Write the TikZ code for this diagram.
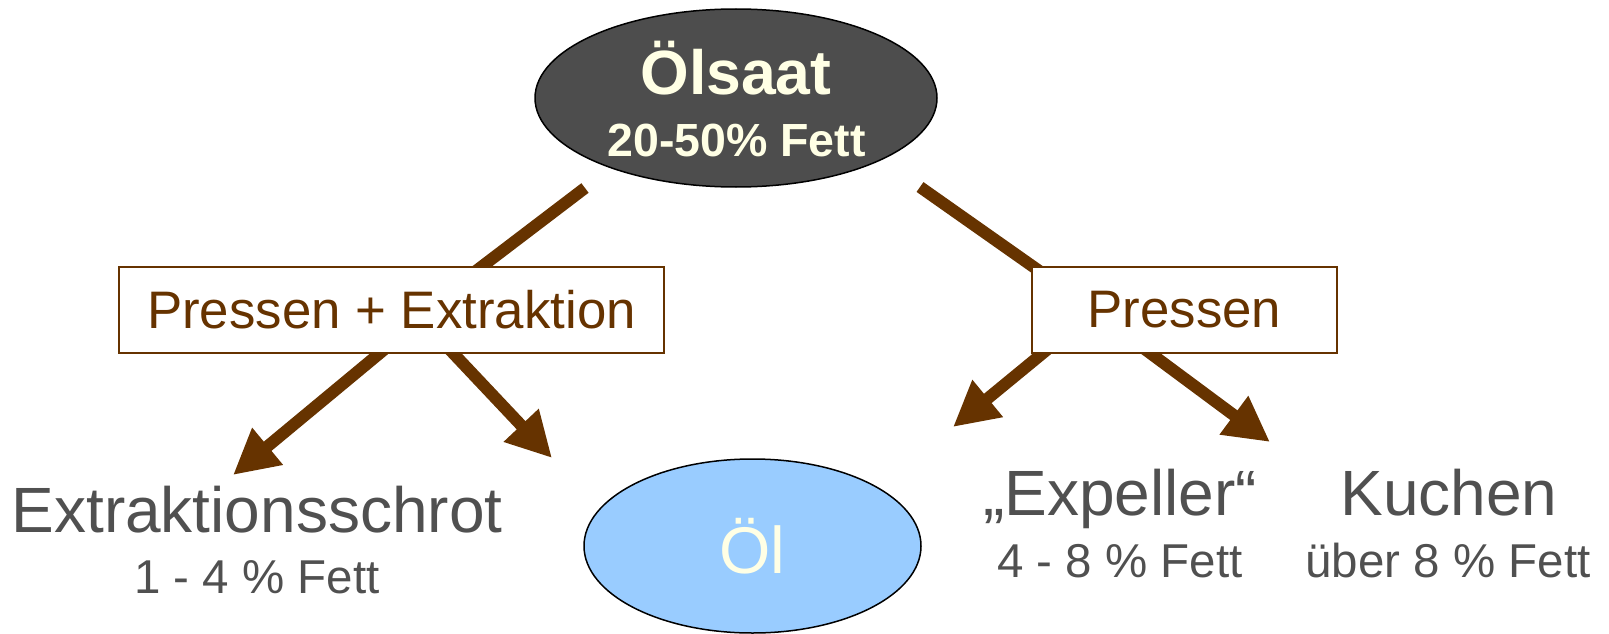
\documentclass[tikz,border=0pt]{standalone}
\usepackage{fontspec}
\setmainfont{Liberation Sans}
\usetikzlibrary{shapes.geometric,arrows.meta,backgrounds}

\definecolor{flowbrown}{HTML}{663300}
\definecolor{seedgray}{HTML}{4D4D4D}
\definecolor{labelgray}{HTML}{505050}
\definecolor{cream}{RGB}{255,255,229}
\definecolor{oilblue}{HTML}{99CCFF}

\newcommand\fsz[1]{\fontsize{#1}{#1}\selectfont}

\begin{document}
\begin{tikzpicture}[x=1pt,y=-1pt,
  blob/.style={ellipse, draw=black, line width=1.5pt, inner sep=0pt},
  stepbox/.style={rectangle, draw=flowbrown, line width=1.5pt, fill=white,
    inner sep=0pt, minimum height=86pt, text=flowbrown, font=\fsz{52.8}},
  txt/.style={anchor=base, inner sep=0pt},
  product/.style={txt, text=labelgray, font=\fsz{64}},
  fat/.style={txt, text=labelgray, font=\fsz{47.5}},
  feed/.style={draw=flowbrown, line width=12pt},
  flow/.style={feed, -{Triangle[length=45pt 0 0, width=45pt 0 0]}}]

\useasboundingbox (0,0) rectangle (1609,634);

% raw material and oil
\node[blob, fill=seedgray, minimum width=402pt, minimum height=178pt] (seed) at (736,98) {};
\node[txt, text=cream, font=\bfseries\fsz{62.5}] (seedname) at (736,95) {Ölsaat};
\node[txt, text=cream, font=\bfseries\fsz{46.5}] (seedfat) at (736.5,156) {20-50\% Fett};

\node[blob, fill=oilblue, minimum width=337pt, minimum height=174pt] (oil) at (752.5,546) {};
\node[txt, text=cream, font=\fsz{66}] (oilname) at (752,573) {Öl};

% process steps
\node[stepbox, minimum width=545pt] (pe) at (391.5,310) {Pressen + Extraktion};
\node[stepbox, minimum width=305pt] (pr) at (1184.5,310) {Pressen};

% products
\node[product] (schrot) at (257,532) {Extraktionsschrot};
\node[fat] (schrotfat) at (257,593) {1 - 4 \% Fett};
\node[product] (expeller) at (1120,515) {„Expeller“};
\node[fat] (expellerfat) at (1120,577) {4 - 8 \% Fett};
\node[product] (kuchen) at (1449,515) {Kuchen};
\node[fat] (kuchenfat) at (1448,577) {über 8 \% Fett};

% connector ends
\coordinate (seedL) at (585,188);
\coordinate (seedR) at (920,187);
\coordinate (peIn) at (451,290);
\coordinate (prIn) at (1045,275);
\coordinate (peOutA) at (395.7,340);
\coordinate (peOutB) at (440.7,340);
\coordinate (prOutA) at (1058.8,340);
\coordinate (prOutB) at (1132.5,340);
\coordinate (tipSchrot) at (233,475);
\coordinate (tipOil) at (552,458);
\coordinate (tipExpeller) at (953,427);
\coordinate (tipKuchen) at (1270,442);

\begin{scope}[on background layer]
  \draw[feed] (seedL) -- (peIn);
  \draw[feed] (seedR) -- (prIn);
  \draw[flow] (peOutA) -- (tipSchrot);
  \draw[flow] (peOutB) -- (tipOil);
  \draw[flow] (prOutA) -- (tipExpeller);
  \draw[flow] (prOutB) -- (tipKuchen);
\end{scope}
\end{tikzpicture}
\end{document}
